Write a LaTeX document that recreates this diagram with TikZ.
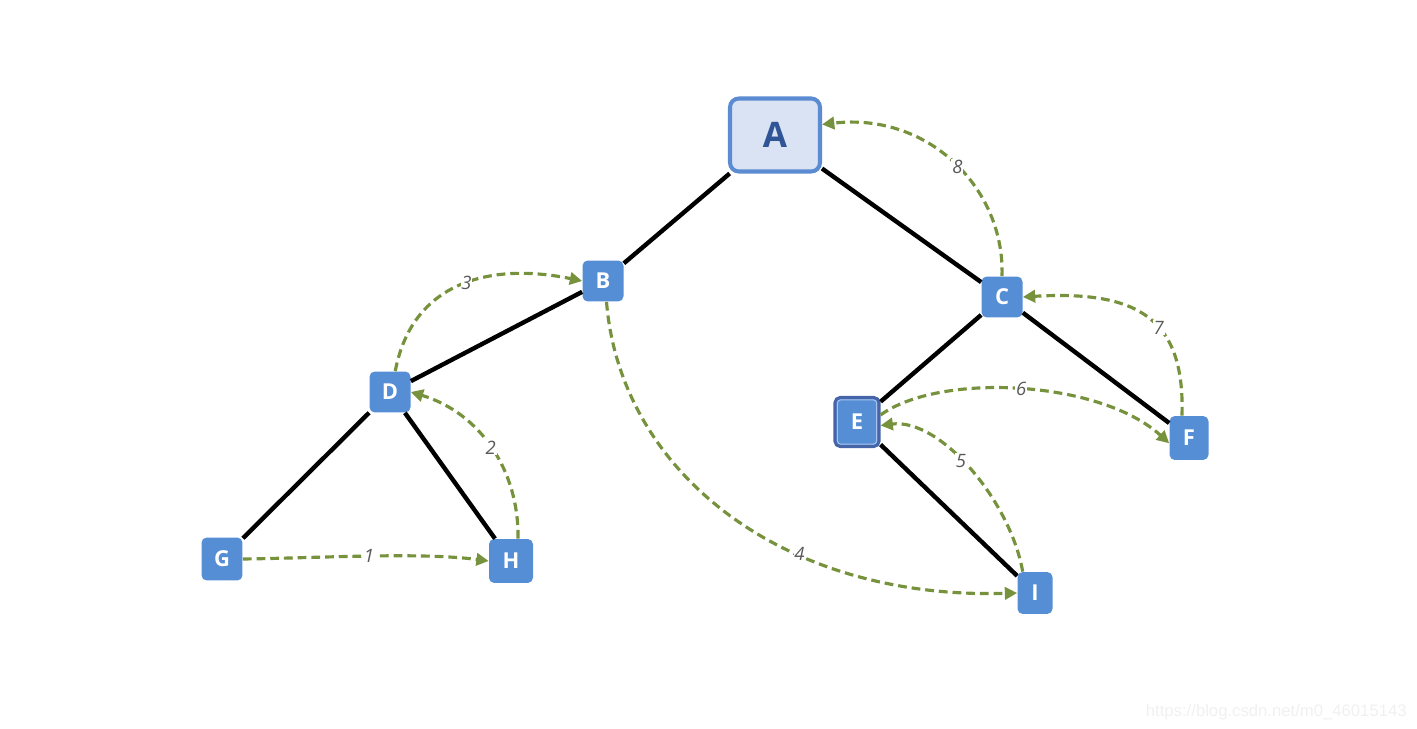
\documentclass[tikz,border=0pt]{standalone}
\usepackage{fontspec}
\setmainfont{Open Sans}
\newfontfamily\wmfont{Liberation Sans}
\usetikzlibrary{arrows.meta}
\definecolor{nodeblue}{HTML}{558ED5}
\definecolor{rootfill}{HTML}{DAE3F3}
\definecolor{rootborder}{HTML}{5B8BD0}
\definecolor{roottext}{HTML}{2F5597}
\definecolor{eborder}{HTML}{4565A8}
\definecolor{einner}{HTML}{A9C3EC}
\definecolor{arrgreen}{HTML}{76923C}
\definecolor{labgray}{HTML}{595959}
\tikzset{
  tnode/.style={fill=nodeblue, text=white, rounded corners=3pt, font=\fontsize{12.5}{14}\selectfont\bfseries, minimum width=0.82cm, minimum height=0.82cm, inner sep=0pt},
  rootnode/.style={fill=rootfill, draw=rootborder, line width=2.3pt, text=roottext, rounded corners=5pt, font=\fontsize{20}{22}\selectfont\bfseries, minimum width=1.8cm, minimum height=1.46cm, inner sep=0pt},
  enode/.style={tnode, draw=eborder, line width=1.8pt, minimum width=0.88cm, minimum height=0.98cm},
  treeedge/.style={line width=2.5pt, black},
  trav/.style={arrgreen, line width=1.8pt, dash pattern=on 5pt off 2.8pt, -{Triangle[length=7pt,width=7pt]}},
  num/.style={fill=white, text=labgray, font=\fontsize{10.5}{12}\selectfont\itshape\mdseries, inner sep=0.5pt}
}
\begin{document}
\begin{tikzpicture}[x=0.02cm,y=-0.02cm]
\useasboundingbox (0,0) rectangle (1417,729);
% nodes
\node[rootnode] (A) at (775,135) {A};
\node[tnode] (B) at (603,281) {B};
\node[tnode] (C) at (1002,297) {C};
\node[tnode] (D) at (390,392) {D};
\node[enode] (E) at (857,422) {E};
\node[tnode, minimum height=0.88cm, minimum width=0.78cm] (F) at (1189,438) {F};
\node[tnode, minimum height=0.86cm] (G) at (222,559) {G};
\node[tnode, minimum width=0.88cm, minimum height=0.88cm] (H) at (511,561) {H};
\node[tnode, minimum width=0.7cm, minimum height=0.84cm] (I) at (1035,593) {I};
\draw[einner, line width=0.6pt, rounded corners=2pt] ([shift={(2.2pt,2.2pt)}]E.south west) rectangle ([shift={(-2.2pt,-2.2pt)}]E.north east);
% tree edges
\draw[treeedge] (A) -- (B);
\draw[treeedge] (A) -- (C);
\draw[treeedge] (B) -- (D);
\draw[treeedge] (C) -- (E);
\draw[treeedge] (C) -- (F);
\draw[treeedge] (D) -- (G);
\draw[treeedge] (D) -- (H);
\draw[treeedge] (E) -- (I);
% traversal arrows
\draw[trav] (G.east) .. controls (320,558) and (420,552) .. (H.west) node[num, pos=0.5] {1};
\draw[trav] ([xshift=4pt]H.north) .. controls (519,470) and (480,413) .. (D.east) node[num, pos=0.5] {2};
\draw[trav] ([xshift=3pt]D.north) .. controls (412,282) and (490,262) .. (B.west) node[num, pos=0.53] {3};
\draw[trav] ([xshift=2pt]B.south) .. controls (620,470) and (780,600) .. (I.west) node[num, pos=0.65] {4};
\draw[trav] ([xshift=-7pt]I.north) .. controls (1010,500) and (940,418) .. ([yshift=-2pt]E.east) node[num, pos=0.55] {5};
\draw[trav] ([yshift=4pt]E.east) .. controls (940,372) and (1100,380) .. ([yshift=-3pt]F.west) node[num, pos=0.5] {6};
\draw[trav] ([xshift=-4pt]F.north) .. controls (1185,320) and (1140,290) .. (C.east) node[num, pos=0.42] {7};
\draw[trav] (C.north) .. controls (1005,190) and (930,112) .. ([yshift=6pt]A.east) node[num, pos=0.48] {8};
% watermark
\node[anchor=east, text=black!6, font=\wmfont\fontsize{9.5}{11}\selectfont, inner sep=0pt] (wm) at (1407,712) {https://blog.csdn.net/m0\_46015143};
\end{tikzpicture}
\end{document}
